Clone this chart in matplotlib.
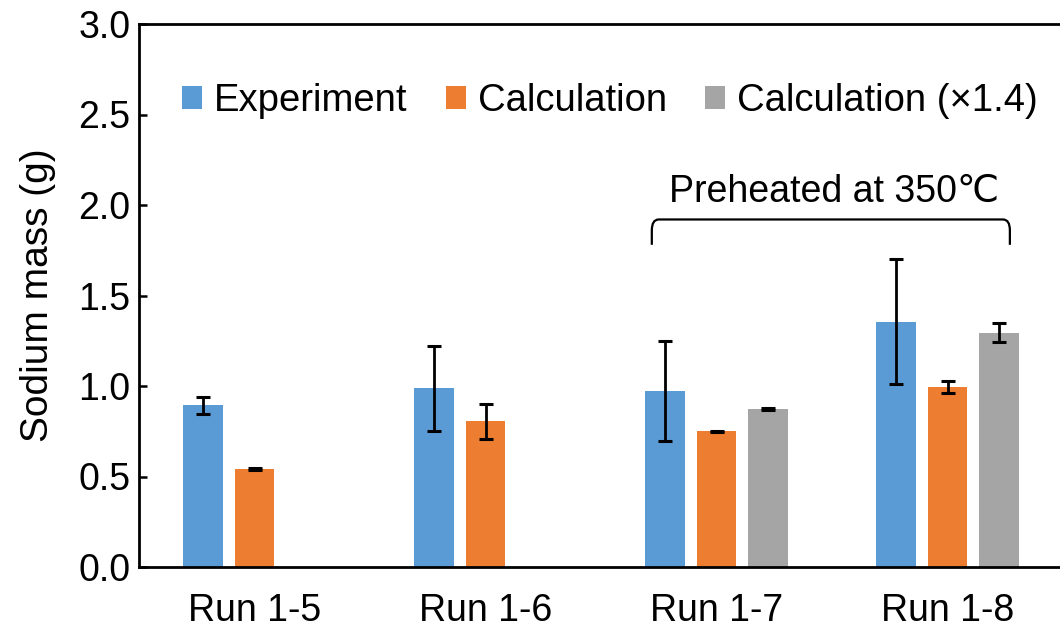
import numpy as np
import matplotlib.pyplot as plt
from matplotlib.path import Path
from matplotlib.patches import PathPatch

plt.rcParams['font.family'] = ['Liberation Sans', 'DejaVu Sans']

# Dados
runs = ['Run 1-5', 'Run 1-6', 'Run 1-7', 'Run 1-8']
experiment = [0.893, 0.987, 0.973, 1.355]
experiment_err = [0.045, 0.235, 0.278, 0.345]
calculation = [0.541, 0.805, 0.749, 0.995]
calculation_err = [0.004, 0.098, 0.004, 0.032]
calc_scaled = [np.nan, np.nan, 0.875, 1.294]
calc_scaled_err = [np.nan, np.nan, 0.006, 0.053]

series = [
    ('Experiment', experiment, experiment_err, '#5B9BD5'),
    ('Calculation', calculation, calculation_err, '#ED7D31'),
    ('Calculation (×1.4)', calc_scaled, calc_scaled_err, '#A5A5A5'),
]

x = np.arange(len(runs))
width = 0.173
offsets = [-0.221, 0.0, 0.221]

fig = plt.figure(figsize=(10.6, 6.34), dpi=100)
ax = fig.add_axes([139 / 1060, 67 / 634, 924 / 1060, 543 / 634])

for (label, vals, errs, color), off in zip(series, offsets):
    ax.bar(x + off, vals, width, color=color, label=label)
    ax.errorbar(x + off, vals, yerr=errs, fmt='none', ecolor='black',
                elinewidth=2, capsize=5, capthick=2.2)

ax.set_xlim(-0.5, 3.5)
ax.set_ylim(0, 3.0)
ax.set_yticks(np.arange(0, 3.01, 0.5))
ax.set_yticklabels([f'{v:.1f}' for v in np.arange(0, 3.01, 0.5)])
ax.set_xticks(x)
ax.set_xticklabels(runs)
ax.tick_params(axis='y', direction='in', length=6, width=1.8, labelsize=27, pad=6)
ax.tick_params(axis='x', length=0, labelsize=27, pad=19)
for s in ax.spines.values():
    s.set_linewidth(2)
ax.set_ylabel('Sodium mass (g)', fontsize=28, labelpad=16)

# Chave "Preheated at 350℃"
x0, x1, ytop, ylow, r = 1.72, 3.27, 1.92, 1.78, 0.03
verts = [(x0, ylow), (x0, ytop - 0.06), (x0, ytop), (x0 + r, ytop),
         (x1 - r, ytop), (x1, ytop), (x1, ytop - 0.06), (x1, ylow)]
codes = [Path.MOVETO, Path.LINETO, Path.CURVE3, Path.CURVE3,
         Path.LINETO, Path.CURVE3, Path.CURVE3, Path.LINETO]
ax.add_patch(PathPatch(Path(verts, codes), fill=False, lw=1.6, color='black'))
ax.text(2.51, 2.07, 'Preheated at 350℃', ha='center', va='center', fontsize=27)

fig.legend(loc='center', bbox_to_anchor=(610 / 1060, 1 - 101 / 634), ncol=3,
           frameon=False, fontsize=27.5, handlelength=0.52, handleheight=0.52,
           handletextpad=0.32, columnspacing=1.0)

fig.savefig('out.png', dpi=100)
